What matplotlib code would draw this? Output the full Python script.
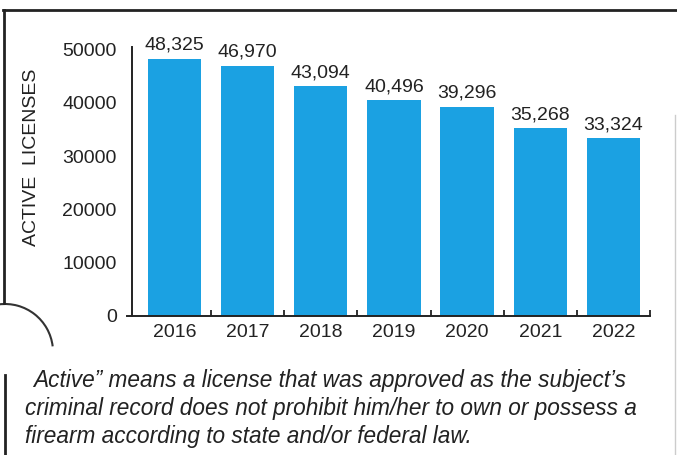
import matplotlib.pyplot as plt
from matplotlib.patches import Arc
from matplotlib.lines import Line2D

years = ['2016', '2017', '2018', '2019', '2020', '2021', '2022']
licenses = [48325, 46970, 43094, 40496, 39296, 35268, 33324]
yticks = [0, 10000, 20000, 30000, 40000, 50000]
note = ['Active\u201d means a license that was approved as the subject\u2019s',
        'criminal record does not prohibit him/her to own or possess a',
        'firearm according to state and/or federal law.']

plt.rcParams['font.family'] = ['Liberation Sans', 'DejaVu Sans']

fig = plt.figure(figsize=(6.77, 4.55), dpi=100)
ax = fig.add_axes([132/677, 1-316/455, 518/677, 269/455])

x = range(len(years))
bars = ax.bar(x, licenses, width=0.73, color='#1ba1e2')
for b, v in zip(bars, licenses):
    ax.annotate('{:,}'.format(v), (b.get_x() + b.get_width()/2, v),
                xytext=(0, 3.5), textcoords='offset points',
                ha='center', va='bottom', fontsize=14, color='#222222',
                family=['Liberation Sans Narrow', 'Liberation Sans'])

ax.set_xlim(-0.58, 6.5)
ax.set_ylim(0, 50500)
ax.set_yticks(yticks)
ax.set_yticklabels([str(t) for t in yticks], fontsize=14, color='#222222')
ax.set_xticks(list(x))
ax.set_xticklabels(years, fontsize=14, color='#222222')
ax.tick_params(axis='y', length=0, pad=11)
ax.tick_params(axis='x', length=0, pad=6)
# small upward ticks between categories
ax.set_xticks([i + 0.5 for i in x], minor=True)
ax.tick_params(axis='x', which='minor', direction='in', length=4, width=1.3, color='#222222')
for s in ['top', 'right']:
    ax.spines[s].set_visible(False)
for s in ['left', 'bottom']:
    ax.spines[s].set_linewidth(1.4)
    ax.spines[s].set_color('#222222')
ax.spines['bottom'].set_bounds(-0.65, 6.5)

fig.text(32/677, 1-157/455, 'ACTIVE  LICENSES', rotation=90, ha='center', va='center',
         fontsize=14, color='#222222')

for i, line in enumerate(note):
    fig.text((33 if i == 0 else 25)/677, 1-(380 + 28*i)/455, line, ha='left', va='center',
             fontsize=16.3, style='italic', color='#222222')

# scanned frame
fig.add_artist(Line2D([3/677, 1], [1-10/455, 1-10/455], color='#222222', lw=2))
fig.add_artist(Line2D([4/677, 4/677], [1-10/455, 1-303/455], color='#222222', lw=2))
fig.add_artist(Line2D([5/677, 5/677], [1-375/455, 0], color='#222222', lw=2))
fig.add_artist(Line2D([675/677, 675/677], [1-115/455, 0], color='#cccccc', lw=1))
fig.add_artist(Arc((5/677, 1-352/455), 96/677, 96/455, theta1=10, theta2=95,
                   transform=fig.transFigure, color='#333333', lw=1.5))

fig.savefig('out.png', dpi=100)
